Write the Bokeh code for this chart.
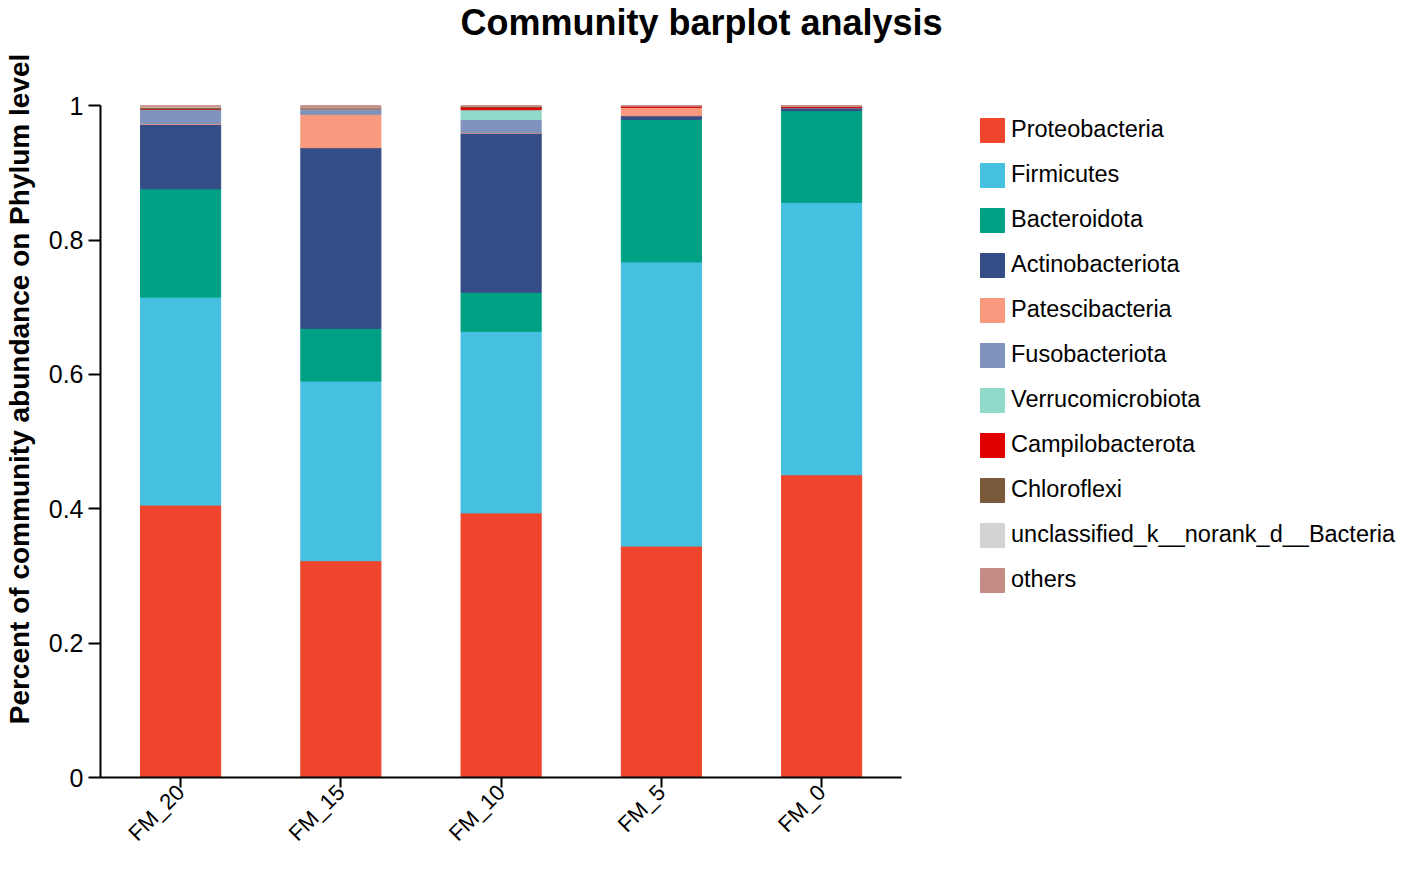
from bokeh.plotting import figure
from bokeh.models import ColumnDataSource, Legend, LegendItem, FixedTicker, Range1d, Label
from bokeh.embed import file_html
from bokeh.resources import INLINE
from math import pi

samples = ["FM_20", "FM_15", "FM_10", "FM_5", "FM_0"]
phyla = ["Proteobacteria", "Firmicutes", "Bacteroidota", "Actinobacteriota",
         "Patescibacteria", "Fusobacteriota", "Verrucomicrobiota",
         "Campilobacterota", "Chloroflexi", "unclassified_k__norank_d__Bacteria", "others"]
colors = ["#EF452C", "#46C0E0", "#00A084", "#344D86", "#F99A7E", "#8093BC",
          "#91D9C8", "#E00000", "#7B5A3C", "#D3D3D3", "#C48C84"]

proteobacteria = [0.4055, 0.3227, 0.3939, 0.3445, 0.4506]
firmicutes = [0.3096, 0.2674, 0.2703, 0.4229, 0.4055]
bacteroidota = [0.1613, 0.0785, 0.0581, 0.2123, 0.1367]
actinobacteriota = [0.0959, 0.2689, 0.2369, 0.0053, 0.0044]
patescibacteria = [0.0010, 0.0498, 0.0010, 0.0125, 0.0000]
fusobacteriota = [0.0210, 0.0070, 0.0193, 0.0000, 0.0000]
verrucomicrobiota = [0.0005, 0.0010, 0.0145, 0.0000, 0.0000]
campilobacterota = [0.0005, 0.0005, 0.0040, 0.0025, 0.0025]
chloroflexi = [0.0020, 0.0010, 0.0015, 0.0000, 0.0000]
unclassified = [0.0010, 0.0010, 0.0005, 0.0000, 0.0000]
others = [0.0017, 0.0022, 0.0000, 0.0000, 0.0003]

y_ticks = [0, 0.2, 0.4, 0.6, 0.8, 1]
y_tick_labels = ["0", "0.2", "0.4", "0.6", "0.8", "1"]

title_text = "Community barplot analysis"
y_label = "Percent of community abundance on Phylum level"

series = [proteobacteria, firmicutes, bacteroidota, actinobacteriota, patescibacteria,
          fusobacteriota, verrucomicrobiota, campilobacterota, chloroflexi, unclassified, others]
# sample positions on the x scale: one unit per sample, bar centred in its slot
positions = [i + 0.5 for i in range(len(samples))]
data = {"pos": positions, "sample": samples}
for name, vals in zip(phyla, series):
    data[name] = vals
source = ColumnDataSource(data)

FONT = "Liberation Sans"

# layout (screen px): frame spans the figure; 160 px per sample; y = 1 sits below the title
W, H = 1400, 857
LEFT, BOTTOM, RIGHT = 92, 89, 10
unit_px = 160
top_gap = 104
x_end = (W - LEFT - RIGHT) / unit_px
y_end = 1 + top_gap / (H - BOTTOM - top_gap)

p = figure(width=W, height=H, x_range=Range1d(0, x_end), y_range=Range1d(0, y_end),
           output_backend="svg", toolbar_location=None,
           min_border_left=LEFT, min_border_right=0, min_border_top=0, min_border_bottom=0)

renderers = p.vbar_stack(phyla, x="pos", width=0.5, color=colors, source=source)

p.outline_line_color = None
p.xgrid.grid_line_color = None
p.ygrid.grid_line_color = None
p.background_fill_color = "white"
p.border_fill_color = "white"

title = Label(x=360, y=1, x_units="screen", y_units="data", y_offset=83,
              text=title_text, text_font=FONT, text_font_size="36px",
              text_font_style="bold", text_color="black",
              text_align="left", text_baseline="alphabetic")
p.add_layout(title)

ya = p.yaxis[0]
ya.ticker = FixedTicker(ticks=y_ticks)
ya.major_label_overrides = {t: l for t, l in zip(y_ticks, y_tick_labels)}
ya.bounds = (0, 1)
ya.axis_label = y_label
ya.axis_label_text_font = FONT
ya.axis_label_text_font_size = "28px"
ya.axis_label_text_font_style = "bold"
ya.axis_label_text_color = "black"
ya.axis_label_standoff = 11
ya.major_label_text_font = FONT
ya.major_label_text_font_size = "25px"
ya.major_label_standoff = 5
ya.minor_tick_line_color = None
ya.major_tick_out = 12
ya.major_tick_in = 0

xa = p.xaxis[0]
xa.ticker = FixedTicker(ticks=positions)
xa.major_label_overrides = {pos: s for pos, s in zip(positions, samples)}
xa.bounds = (0, len(samples))
xa.minor_tick_line_color = None
xa.major_label_orientation = pi / 4
xa.major_label_text_font = FONT
xa.major_label_text_font_size = "22px"
xa.major_tick_out = 10
xa.major_tick_in = 0
xa.major_label_standoff = 1

for ax in [xa, ya]:
    ax.axis_line_width = 2
    ax.axis_line_color = "black"
    ax.major_tick_line_width = 2
    ax.major_tick_line_color = "black"
    ax.major_label_text_color = "black"

legend = Legend(items=[LegendItem(label=n, renderers=[r]) for n, r in zip(phyla, renderers)])
legend.ncols = 1
legend.location = (877, 175)
legend.margin = 0
legend.padding = 0
legend.spacing = 0
legend.label_height = 45
legend.glyph_height = 30
legend.glyph_width = 30
legend.label_standoff = 4
legend.label_text_font = FONT
legend.label_text_font_size = "23.5px"
legend.label_text_color = "black"
legend.border_line_color = None
legend.background_fill_alpha = 0
p.add_layout(legend)

open("out.html", "w").write(file_html(p, INLINE))
